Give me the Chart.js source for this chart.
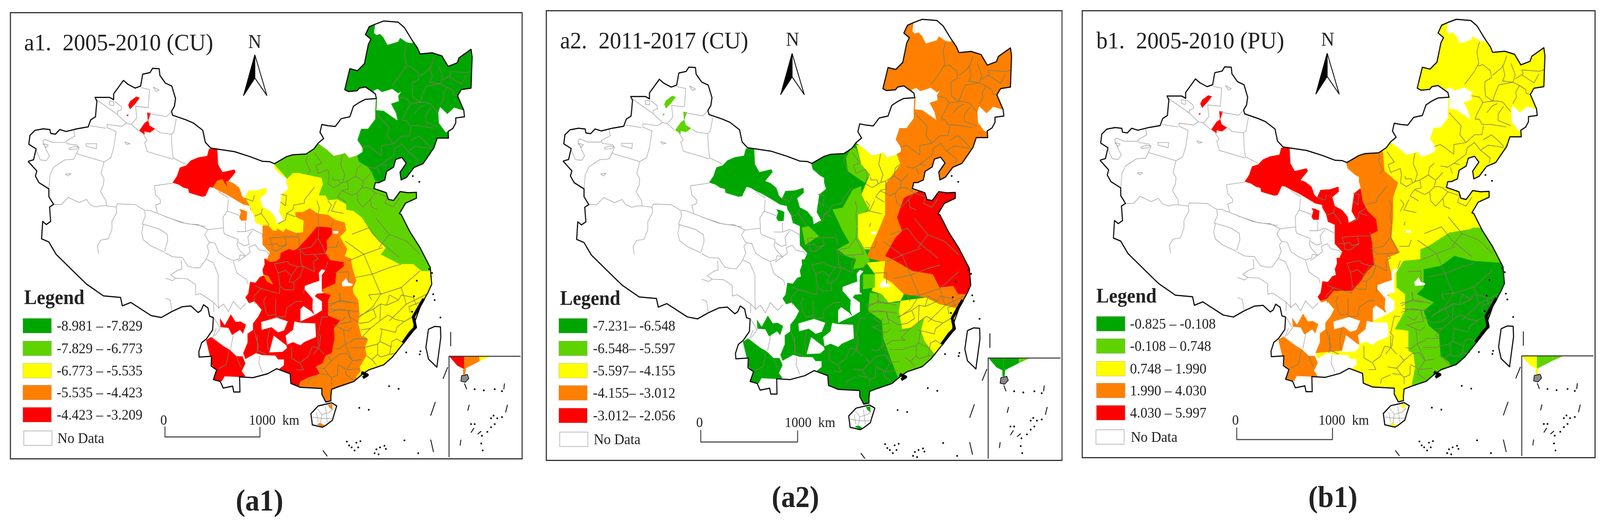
<!DOCTYPE html>
<html>
<head>
<meta charset="utf-8">
<script src="https://cdn.jsdelivr.net/npm/chart.js@4/dist/chart.umd.js"></script>
<style>
  html, body { margin: 0; background: #fff; overflow: hidden; }
  #page { position: relative; width: 4371px; height: 1345px; overflow: hidden; font-family: "Liberation Serif", serif; color: #222; transform-origin: 0 0; }
  #page canvas { position: absolute; }
  .frame { position: absolute; box-sizing: border-box; border: 3px solid #333; pointer-events: none; }
  .txt { position: absolute; white-space: pre; line-height: 1; }
  .swatch { position: absolute; box-sizing: border-box; border: 1px solid #bbb; }
</style>
</head>
<body>
<div id="page"></div>
<script>
// legend classes
const classColors = ['#00a600', '#5fd300', '#ffff00', '#ff8000', '#ff0000'];
const legendA1 = ['-8.981 – -7.829', '-7.829 – -6.773', '-6.773 – -5.535', '-5.535 – -4.423', '-4.423 – -3.209', 'No Data'];
const legendA2 = ['-7.231– -6.548', '-6.548– -5.597', '-5.597– -4.155', '-4.155– -3.012', '-3.012– -2.056', 'No Data'];
const legendB1 = ['-0.825 – -0.108', '-0.108 – 0.748', '0.748 – 1.990', '1.990 – 4.030', '4.030 – 5.997', 'No Data'];

// outlines, flat x,y lists in map units
const national = [73,412,88,408,95,380,75,368,78,345,92,332,115,328,133,330,135,340,148,342,160,330,177,335,207,328,238,323,245,305,258,297,262,257,257,247,297,247,308,253,308,238,335,203,347,213,367,223,382,218,388,187,408,183,415,172,433,173,435,190,450,210,468,218,478,250,475,270,467,283,470,293,507,305,527,313,553,332,560,363,575,378,640,387,683,400,717,412,737,413,750,418,783,400,800,395,837,393,858,380,870,365,885,353,875,337,880,317,897,320,917,322,933,302,957,297,967,270,983,260,1000,252,1030,250,1027,238,1000,220,983,223,977,230,953,232,943,227,957,173,978,178,997,160,1008,110,1015,97,1000,85,1010,65,1027,58,1050,50,1090,53,1107,67,1127,98,1143,120,1150,135,1183,132,1210,140,1227,167,1252,158,1257,145,1290,123,1293,143,1290,223,1263,227,1253,243,1270,280,1272,297,1248,300,1248,313,1240,327,1227,335,1228,352,1197,352,1188,377,1158,418,1133,428,1113,453,1098,460,1095,440,1112,417,1100,402,1083,407,1077,427,1058,438,1053,460,1037,467,1027,467,1023,482,1057,493,1063,510,1077,513,1095,490,1117,493,1140,492,1140,507,1110,520,1093,547,1098,549,1121,592,1150,635,1178,686,1182,729,1172,750,1152,783,1135,827,1131,850,1103,883,1074,917,1050,937,1009,950,989,963,968,980,927,993,907,1000,905,1017,905,1030,891,1033,880,1013,880,998,821,995,795,985,793,960,756,947,731,960,691,970,654,968,655,1007,638,1007,635,992,609,997,601,980,582,975,591,950,576,940,577,915,543,917,542,903,550,880,563,870,580,847,582,815,572,812,567,790,555,782,548,797,540,802,520,785,497,787,467,800,439,815,411,810,355,776,332,785,327,763,280,759,234,729,215,712,150,652,130,620,110,612,113,567,123,575,135,567,132,530,143,523,130,503,130,483,103,467,93,450,97,437,73,412];
const dataArea = [930,20,1320,20,1320,1060,770,1060,764,947,776,938,776,923,760,923,752,913,717,912,699,907,670,922,664,907,676,880,676,857,691,847,691,830,705,813,715,795,695,773,680,778,670,763,678,753,683,723,698,725,710,710,720,707,717,692,723,677,722,663,730,663,737,647,717,627,717,607,717,578,698,570,693,550,683,535,682,527,663,523,637,508,617,497,597,488,582,480,572,478,560,502,550,503,515,493,513,483,500,480,487,472,470,467,482,450,490,428,507,423,520,410,540,402,565,398,570,380,593,380,595,420,607,440,640,433,643,440,623,463,637,468,653,480,658,492,660,500,668,508,678,488,703,487,727,480,728,493,710,507,717,530,737,540,752,557,755,573,775,563,763,543,765,528,770,497,788,483,783,467,783,455,773,450,752,433,748,418,748,405,860,365,872,367,895,383,913,398,937,393,943,390,955,403,977,397,992,388,992,377,978,357,988,328,1007,328,1027,303,1027,283,1029,245,930,240];
const hainan = [870,1043,907,1035,921,1043,913,1067,909,1080,891,1093,882,1098,854,1092,850,1063,870,1043];
const taiwan = [1173,845,1190,838,1206,839,1207,866,1196,943,1173,922,1166,892,1173,845];

// no data holes inside the data area, read off crops
const holesCrop6 = [
  [670,150,680,85,700,30,900,30,1000,200,985,232,940,225,885,190,870,220,780,245,750,190,720,160,690,170],
  [665,600,700,585,735,610,820,585,870,620,895,605,870,640,875,680,810,700,850,770,865,830,810,795,750,755,690,750,695,670],
  [1215,725,1275,780,1330,730,1420,755,1430,900,1260,920,1205,850,1200,770],
];
const holesCrop7 = [
  [1265,900,1290,870,1320,880,1290,915,1290,1040,1310,1055,1250,1060,1215,1100,1150,1030,1150,1000,1220,975,1270,960],
  [1380,575,1425,575,1425,595,1385,597],
  [1455,975,1490,940,1510,975,1545,985,1540,1000,1460,1005],
];
const holesCrop8 = [
  [375,230,480,195,555,225,530,295,490,310,445,270,380,290],
  [460,335,545,410,550,430,520,460,430,465],
  [600,225,640,235,740,240,745,345,665,385,640,410,590,385,550,405,540,335,590,290],
  [640,130,660,105,710,145,735,175,640,225],
  [725,20,785,70,785,140,735,175,720,130],
];

// separate patches that always carry one class
const yunnanNorth = [450,1250,490,1305,540,1220,580,1280,620,1275,665,1300,640,1370,615,1340,550,1380,520,1325,455,1320];
const yunnanSouth = [5,370,40,345,80,380,120,415,165,445,210,495,250,495,270,550,245,610,270,650,225,655,130,650,110,690,55,675,75,600,40,560,30,490];
const qinghaiPatch = [653,535,663,537,675,542,673,565,658,565,653,557,658,543];
const karamay = [370,245,380,248,368,263,353,278,348,267,353,257];
const karamaySmall = [343,293,349,290,347,296];
const urumqi = [400,286,410,287,403,307,407,320,422,328,408,338,393,335,393,343,378,333,393,313,402,307];
const hainanTop = [897,1040,909,1038,909,1053,901,1048];
const hainanBottom = [866,1090,876,1087,887,1093,882,1098];

// class areas of a1, map units
const a1Red = [700,640,723,663,737,672,755,670,765,662,767,648,790,638,803,642,813,637,842,608,867,580,907,583,908,600,893,617,895,637,890,648,903,667,940,672,940,683,920,698,917,727,880,743,887,752,905,757,897,770,897,810,930,823,913,843,915,867,907,907,891,913,882,932,864,942,874,960,842,970,821,980,817,992,817,1060,640,1060,640,640];
const a1RedHexi = [460,370,650,370,650,465,640,468,633,463,617,463,620,478,607,458,592,462,582,477,575,510,460,510];
const a1OrangeInset = [718,703,733,708,747,730,730,723];
const a1Yellow = [670,507,682,527,700,578,713,578,733,577,745,590,755,592,758,585,775,595,780,585,790,590,810,597,828,595,830,565,808,555,807,543,827,543,847,533,870,547,897,550,917,563,943,570,947,590,930,607,950,638,943,657,960,663,963,683,975,720,965,740,967,752,980,770,984,807,980,830,989,863,1007,872,999,890,1003,913,984,943,987,953,974,968,1000,1000,1320,1000,1320,380,900,380,660,440];
const a1Light = [700,300,748,418,785,457,800,442,817,442,880,455,883,472,878,482,872,500,890,500,897,512,923,510,947,523,947,537,967,540,990,557,1019,600,1056,635,1042,652,1093,677,1131,677,1154,695,1320,695,1320,300];
const a1Dark = [1320,20,1320,520,1027,463,1017,440,1007,427,982,413,977,397,960,300,930,240,930,20];

const a2Orange = [960,20,1000,250,1065,460,1075,490,1030,550,1030,640,1010,690,985,745,975,770,1030,785,1025,830,1050,845,1085,880,1150,890,1190,910,1245,925,1500,925,1500,20];
const a2Red = [1085,590,1130,570,1170,590,1190,575,1300,570,1300,880,1270,880,1245,880,1230,855,1190,860,1170,820,1110,810,1060,780,1030,765,1060,710,1080,690,1065,650];
const a2Yellow1 = [945,430,1065,460,1075,490,1030,550,1030,640,1010,690,985,745,970,745,950,710,950,640,985,630,960,580,985,520,960,490];
const a2Yellow2 = [975,785,1030,780,1025,830,1050,845,1085,880,1075,900,1040,905,1020,880,990,870,1000,845,1000,820];
const a2Yellow3 = [1075,900,1150,890,1190,910,1250,925,1300,950,1175,1090,1145,1020,1135,990,1145,950,1110,980,1080,985,1070,930];
const a2Light1 = [915,470,920,510,970,545,985,520,960,490,945,440,930,440];
const a2Light2 = [960,555,935,565,905,620,875,625,905,690,925,725,890,745,915,765,945,775,935,805,965,800,985,780,970,745,950,710,950,640,985,630,960,580];
const a2Light3 = [985,875,1020,880,1040,905,1075,905,1070,930,1080,985,1110,980,1145,950,1135,990,1145,1020,1175,1060,1160,1150,1075,1150,1050,1085,1025,1015,1020,960,980,930];
const a2Light4 = [965,820,1000,820,1000,860,965,865];
const a2Light5 = [785,680,805,675,835,705,795,732];

const b1Orange = [700,380,925,450,930,510,970,545,955,590,955,650,950,710,975,755,940,770,945,800,955,830,940,860,945,930,905,945,880,990,855,1030,805,1050,700,1060,500,1060,500,380];
const b1Red = [480,380,760,380,835,560,860,565,865,600,880,630,905,655,910,690,890,700,895,745,900,790,880,810,860,840,835,870,780,870,760,895,740,900,700,900,480,600];
const b1Light = [1190,680,1400,680,1400,1200,1010,1200,1010,1150,1020,1100,1015,1060,1000,1050,1000,990,960,985,990,930,990,880,965,860,965,815,985,780,1035,775,1035,745,1060,735,1090,715,1120,695,1180,685];
const b1Dark = [1262,785,1400,785,1400,1150,1130,1120,1120,1085,1095,1065,1090,1000,1060,975,1045,930,1075,905,1025,880,1045,860,1045,805,1095,795,1135,765,1190,780];

// light prefecture lines of the west
const westCrop5 = [
  [605,310,770,420,850,490,890,500,950,550],
  [850,490,810,515,690,500,690,525,765,555,745,680,720,760,665,790,450,730,440,720],
  [550,510,680,530],
  [750,320,805,360,810,385,775,400,775,420],
  [965,215,1040,230,1030,370,925,360,935,450,890,500],
  [1030,415,1180,440,1215,405],
  [1260,455,1240,560,1220,575,1225,680,1235,760,1340,810],
  [1090,540,1130,565,1220,575],
  [985,570,1020,625,1000,640,1020,710,1235,770],
  [415,545,425,590,350,630,360,650,440,660,460,680,440,720,415,770,340,775,250,830,220,890,210,1000],
  [160,630,175,615,240,640,350,640],
  [160,630,190,700,215,745,190,780,140,775,105,700],
  [665,790,640,880,665,920,660,970,635,1020,680,1090,685,1130,640,1130,600,1140,550,1120,520,1080,460,1105,370,1065,315,1120,250,1120],
  [685,1130,765,1140,770,1180,730,1250,730,1310,700,1385,640,1395,610,1440,620,1500],
  [765,1140,775,1115,920,1120,1000,1165,1040,1165,1300,1260,1500,1290],
  [1080,975,1230,955],
  [1080,975,1090,1045,1130,1085,1130,1110,1090,1125,1105,1185],
  [1000,1170,1005,1210,980,1270,1120,1310,1185,1350,1190,1400,1165,1480],
  [990,1270,975,1340,990,1395,1050,1440,1165,1490],
  [515,650,605,650,600,690,520,670,515,650],
  [1070,210,1120,235,1095,245,1070,210],
  [375,685,420,670,455,675,440,690,380,695,375,685],
  [160,650,205,660,190,680,160,650],
  [835,635,880,650,850,655,835,635],
  [345,885,390,880,370,900,345,885],
  [710,320,745,325,745,355,710,350,710,320],
];
const westCrop7 = [
  [0,465,180,520,270,525,350,565,480,550,480,580,490,600,600,640,590,680,610,720,660,770,600,810],
  [350,565,325,605,360,660,410,670,440,740,500,780,560,805,610,790,615,760,660,770,700,740,690,700,740,680,770,720,830,730,860,760],
  [365,665,345,690,360,740,335,795,285,860,240,860,190,850,140,780,60,775,0,745],
  [340,795,395,820,435,910,435,1100,440,1180],
  [130,800,135,870,100,880,45,915,85,940,180,945,250,990,250,1070,290,1060,400,1130,400,1200],
  [0,940,60,960,85,940],
  [0,1095,40,1110,55,1190],
  [560,810,590,900,670,950,680,985],
  [520,330,510,420,610,455],
  [510,420,475,470,480,550],
  [440,270,520,320],
  [660,510,660,580,720,560,800,600,800,620],
  [590,580,660,580],
  [680,620,720,570],
  [680,620,690,680,650,690,600,660],
  [400,1130,440,1170,480,1140,520,1200,560,1120,620,1180,665,1135],
  [420,1330,390,1400],
];
const westCrop8 = [
  [60,340,100,280,60,200],
  [190,320,170,440],
  [365,490,360,550,385,620],
];

// darker county lines of the east
const eastCrop6 = [
  [940,235,920,310,935,400,900,460,820,560],
  [920,420,970,410,1030,455,1040,510,985,540,985,590,990,650,1050,690],
  [1050,490,1115,440,1140,410,1165,340],
  [1130,410,1150,490,1130,535,1215,545,1235,490,1200,400],
  [1235,520,1300,480,1290,450,1430,460,1470,450],
  [1290,490,1340,520,1390,550,1430,480],
  [1100,565,1215,545,1270,570,1240,620,1245,660,1215,710],
  [1100,565,1070,630,1050,690,970,700,920,790,905,830],
  [1270,570,1320,600,1325,630,1360,640],
  [880,650,940,660,970,700],
  [1050,690,1090,690,1135,700,1170,740,1195,770],
  [1000,780,1050,725,1090,710],
  [1140,730,1095,790,1095,840,1200,880],
  [905,830,940,830,960,870,1030,870,1100,880,1160,890],
  [690,780,790,880,780,950,830,1010,900,950,960,950,975,880],
  [970,990,1040,950,1100,1000,1140,1040],
  [830,1010,730,1025,730,1100,620,1025,570,1040],
  [830,1100,840,1050,900,1010,950,1070,1010,1030,1090,1040,1140,1050],
  [950,1070,1030,1130,1020,1170],
  [830,1100,730,1170,780,1180],
  [620,1190,680,1200,730,1170],
  [700,1200,720,1250],
  [180,1080,240,1160,190,1180,210,1240,290,1210,300,1260,290,1320,340,1350,410,1310,430,1250,395,1170,410,1090],
  [120,1100,110,1150,145,1220,120,1250],
  [410,1310,450,1300,520,1260,530,1200,570,1170],
  [330,1270,330,1290,380,1290,390,1320],
  [520,1260,580,1300,640,1240],
  [450,1300,460,1360,410,1370,370,1420,440,1460],
  [580,1300,570,1350,530,1390,490,1410,410,1375],
  [530,1390,540,1460,580,1500,640,1440,680,1390,640,1360,610,1350,570,1350],
  [680,1390,780,1420,760,1470,830,1500,880,1430],
  [640,1440,650,1500,700,1520],
];
const eastCrop7 = [
  [1230,235,1150,330,1145,360,1060,375,1050,410,1000,440,990,490,930,520],
  [1000,440,1070,465],
  [1250,340,1270,400,1260,440],
  [950,290,1000,300,990,380,950,350],
  [1340,340,1370,375,1340,430],
  [1410,340,1390,380,1370,420,1470,440],
  [790,440,830,490,855,530],
  [800,400,790,440,735,460],
  [650,320,720,345,735,300],
  [1265,540,1260,630,1200,700,1090,720],
  [1260,630,1310,720,1320,750,1150,760,1110,720],
  [1110,720,1120,830,1140,850,1090,850,1020,830],
  [1140,850,1230,890,1220,810,1260,790,1230,760],
  [1340,810,1320,870],
  [1140,850,1110,930,1060,970,1020,970,1040,920,1090,850],
  [990,880,1040,920],
  [990,880,930,900,900,830,1010,810,1020,830],
  [930,900,945,1000,940,1060,860,1040,790,1020,730,1080],
  [1060,970,1060,1030,985,1030,950,1005],
  [1150,1000,1140,1060],
  [740,1000,790,1020],
  [830,1080,810,1120,830,1200,850,1230,910,1220],
  [910,1100,910,1240,990,1240,1000,1170,1080,1120,1130,1120],
  [730,1080,740,1140],
  [1290,1240,1260,1370,1280,1390,1270,1470,1220,1530],
  [1340,1240,1290,1240],
  [730,1340,770,1470,750,1520],
  [860,1330,840,1420,850,1500],
  [860,630,1000,620,1090,620],
  [860,630,880,680,920,670,940,695,1000,680,985,620],
  [830,680,880,680,880,720,920,730,1000,680],
  [1090,590,1110,680],
  [1260,440,1265,530],
  [1380,510,1370,540],
  [1430,650,1410,700,1330,700],
  [1400,895,1510,890,1510,970],
  [1440,1060,1440,1120,1340,1140],
  [1440,1120,1530,1130],
  [1360,1180,1430,1190,1510,1190],
  [1510,1190,1530,1280,1450,1290,1400,1310],
];
const eastCrop8 = [
  [1040,180,1130,130,1180,90,1220,100,1300,60],
  [1130,130,1150,190,1100,230,1040,240],
  [1180,90,1175,220,1110,280,1050,290],
  [1175,220,1230,175,1280,210,1340,225,1410,180],
  [1110,280,1060,340,1090,360],
  [1175,280,1190,285,1280,310,1290,270,1340,225],
  [1190,285,1175,380,1160,400,1075,425],
  [1175,380,1250,420,1255,380,1290,360,1330,390],
  [1160,400,1160,480,1120,520,1085,490],
  [1250,420,1240,480,1180,500,1160,480],
  [1240,480,1290,470],
  [1120,520,1150,560],
  [1380,160,1370,110,1460,70],
  [1300,60,1320,20,1400,40,1420,100],
  [1220,100,1240,20,1300,60],
  [1120,60,1100,20,1190,10],
  [900,0,910,60,830,110],
  [910,60,1030,90],
  [830,160,900,130,960,140,1030,150],
  [960,140,970,190,1040,240],
  [870,190,920,220,940,190],
  [860,250,930,290,940,400,980,380,1000,360,1090,360],
  [930,290,960,300,990,270],
  [940,400,900,440,860,430],
  [980,430,1075,430],
  [940,400,990,530,1050,520],
  [820,490,850,530,900,480,950,470,990,530,950,600,1040,590],
  [850,530,800,590,740,580],
  [890,560,940,590,950,640,1000,680],
  [800,590,830,640,850,660,850,710],
  [850,660,890,640,890,570],
  [760,640,700,670,690,710],
  [830,640,770,630],
  [640,540,690,500,720,420,760,430,800,480],
  [580,420,580,510,640,550,660,600,610,600],
  [760,340,760,420],
  [350,330,350,450,410,480],
  [160,450,140,560,90,590],
  [210,500,240,580],
];
const eastCrop1 = [
  [1030,700,1080,680,1110,720,1170,770],
  [1010,720,1065,760,1120,740],
  [1020,780,1065,760,1090,820,1140,800,1175,790],
  [1040,830,1090,820,1115,880,1175,860,1230,810],
  [1115,880,1090,920,1050,950],
  [1175,860,1190,910,1140,960],
  [1190,910,1250,880],
  [1100,650,1140,700,1190,720],
  [1140,700,1110,740],
  [1190,720,1230,760],
];
const hainanLines = [
  [868,1050,880,1065,900,1060,912,1050],
  [880,1065,876,1090],
  [855,1072,880,1075,908,1075],
  [890,1045,895,1085],
  [865,1060,870,1085],
];

// coast clumps, islands and sea dashes
const coastThick = [
  [1470,50,1440,110,1400,190,1415,270,1380,310,1330,390],
  [1050,620,1090,640,1060,660],
];
const seaDashes = [
  [1192,1033,1179,1068],[1179,1130,1187,1162],[883,1158,895,1173],
  [1234,853,1234,888],[1226,943,1213,973],
  [1272,985,1278,1000],[1382,985,1380,1000],[1285,1040,1281,1055],[1390,1040,1385,1060],
  [1262,1130,1260,1145],[1298,1100,1290,1112],[1318,1108,1308,1116],
];
const islandDots = [
  [1065,992],[1091,999],[983,1048],[1009,1053],[1107,1132],[1145,1165],[949,1135],[955,1145],[962,1150],[975,1138],[980,1150],[970,1158],[986,1134],
  [1025,1165],[1030,1155],[1040,1150],[1052,1146],[1056,1154],[1036,1168],[1151,902],[1149,910],[1206,815],[1190,770],[1186,755],
  [1300,1000],[1325,1003],[1355,1000],[1375,1005],[1335,1110],[1345,1098],[1355,1090],[1362,1075],[1345,1075],[1352,1068],[1375,1072],[1320,1120],[1318,1140],[1322,1158],[1300,1090],[1290,1090],
  [1141,720],[1133,760],[1128,800],[1120,860],[1175,690],[1183,700],[1112,905],[1148,465],[1130,450],
];
const inset = [1229.5,1175,1229.5,915,1426,915];
const insetHainan = [1264,965,1280,962,1284,972,1274,982,1262,979,1264,965];
const insetNeck = [1268,946,1276,946,1274,962,1268,962];
const insetLeft = [1231,916,1271,916,1271,948,1252,939];
const insetMid = [1271,916,1313,916,1313,928,1271,948];
const insetRight = [1313,916,1341,916,1313,928];
const northLeft = [696,137,665,242,696,197];
const northRight = [696,137,729,242,696,197,696,137];

// reads of the crops back to map units
const mapPts = (flat, ox = 0, oy = 0, sx = 1, sy = 1) => {
  const pts = [];
  for (let i = 0; i < flat.length; i += 2) pts.push({ x: ox + flat[i] / sx, y: oy + flat[i + 1] / sy });
  return pts;
};
const crop1 = (f) => mapPts(f, 0, 0, 1.07, 1.166);
const crop5 = (f) => mapPts(f, 60, 150, 3, 3);
const crop6 = (f) => mapPts(f, 800, 30, 3, 3);
const crop7 = (f) => mapPts(f, 450, 400, 3, 3);
const crop8 = (f) => mapPts(f, 560, 750, 2.45, 3);
const cropA2 = (f) => mapPts(f, -4, 4.75, 1.0807, 1.1777);
const cropB1 = (f) => mapPts(f, -14, 4.5, 1.0721, 1.1707);

const nationalPts = mapPts(national);
const dataPts = mapPts(dataArea);
const hainanPts = mapPts(hainan);

// fills the polygon datasets, the points come from the scales
const polygonFill = {
  id: 'polygonFill',
  beforeDatasetDraw(chart, args) {
    const ds = chart.data.datasets[args.index];
    if (!ds.polyColor) return;
    const { ctx, scales } = chart;
    const trace = (pts) => {
      ctx.beginPath();
      pts.forEach((p, i) => {
        const px = scales.x.getPixelForValue(p.x), py = scales.y.getPixelForValue(p.y);
        if (i) ctx.lineTo(px, py); else ctx.moveTo(px, py);
      });
      ctx.closePath();
    };
    ctx.save();
    (ds.clipTo || []).forEach((pts) => { trace(pts); ctx.clip(); });
    trace(ds.data);
    ctx.fillStyle = ds.polyColor;
    ctx.fill();
    ctx.restore();
  },
};

const area = (pts, color, clipTo) => ({ data: pts, showLine: false, pointRadius: 0, polyColor: color, clipTo });
const lines = (lists, color, width) => {
  const data = [];
  lists.forEach((pts) => { data.push(...pts, { x: null, y: null }); });
  return { data, showLine: true, spanGaps: false, borderColor: color, borderWidth: width, pointRadius: 0, borderJoinStyle: 'round' };
};

const panels = [
  {
    id: 'a1', left: 27, top: 31, right: 1426, bottom: 1175, x: [27, 1426], y: [31, 1175],
    title: 'a1.  2005-2010 (CU)', tag: '(a1)', legend: legendA1,
    titleAt: [66, 129], legendAt: [66, 780], swatchX: 62, labelX: 155, ys: [815, 873, 930, 986, 1043, 1103], noDataX: 64,
    north: [696, 123], zero: [447, 1089], km: [680, 1089], bar: [449, 1097, 710, 1123], tagAt: [710, 1308],
    base: 3,
    cuts: [[mapPts(a1Red), 4], [mapPts(a1RedHexi), 4], [mapPts(a1OrangeInset), 3], [mapPts(a1Yellow), 2], [mapPts(a1Light), 1], [mapPts(a1Dark), 0]],
    yunnan: 4, qinghai: 3, xinjiang: 4, hainan: 3, inset: [4, 3, 2], neck: 3,
  },
  {
    id: 'a2', left: 1491, top: 26, right: 2901, bottom: 1179, x: [30, 1426], y: [30.5, 1172],
    title: 'a2.  2011-2017 (CU)', tag: '(a2)', legend: legendA2,
    titleAt: [1530, 124], legendAt: [1530, 782], swatchX: 1526, labelX: 1620, ys: [815, 873, 930, 987, 1045, 1106], noDataX: 1528,
    north: [2165, 117], zero: [1911, 1095], km: [2144, 1095], bar: [447.5, 1100, 711, 1129.5], tagAt: [2174, 1299],
    base: 0,
    cuts: [[cropA2(a2Orange), 3], [cropA2(a2Red), 4], [cropA2(a2Yellow1), 2], [cropA2(a2Yellow2), 2], [cropA2(a2Yellow3), 2], [cropA2(a2Light1), 1], [cropA2(a2Light2), 1], [cropA2(a2Light3), 1], [cropA2(a2Light4), 1], [cropA2(a2Light5), 1]],
    yunnan: 0, qinghai: 0, xinjiang: 1, hainan: 0, inset: [0, 0, 1], neck: 0,
  },
  {
    id: 'b1', left: 2955, top: 26, right: 4357, bottom: 1172, x: [27, 1426], y: [30.4, 1172],
    title: 'b1.  2005-2010 (PU)', tag: '(b1)', legend: legendB1,
    titleAt: [2995, 124], legendAt: [2995, 776], swatchX: 2995, labelX: 3087, ys: [810, 867, 925, 981, 1038, 1100], noDataX: 2993,
    north: [3627, 117], zero: [3375, 1089], km: [3602, 1089], bar: [448, 1100, 710.6, 1130], tagAt: [3640, 1299],
    base: 2,
    cuts: [[cropB1(b1Orange), 3], [cropB1(b1Red), 4], [cropB1(b1Light), 1], [cropB1(b1Dark), 0]],
    yunnan: 3, qinghai: 4, xinjiang: 4, hainan: 2, inset: [2, 1, 1], neck: 2,
  },
];

const page = document.getElementById('page');
// the window can come up narrower than the 4371 of the layout
page.style.transform = `scaleX(${window.innerWidth / 4371})`;

const addText = (str, x, baseline, size, extra = {}) => {
  const el = document.createElement('div');
  el.className = 'txt';
  el.textContent = str;
  el.style.left = x + 'px';
  el.style.top = (baseline - 0.8375 * size) + 'px';
  el.style.fontSize = size + 'px';
  Object.assign(el.style, extra);
  page.appendChild(el);
};

panels.forEach((p) => {
  const canvas = document.createElement('canvas');
  const w = p.right - p.left, h = p.bottom - p.top;
  canvas.width = w;
  canvas.height = h;
  canvas.style.left = p.left + 'px';
  canvas.style.top = p.top + 'px';
  canvas.style.width = w + 'px';
  canvas.style.height = h + 'px';
  canvas.style.filter = 'blur(0.7px)';
  page.appendChild(canvas);

  const inData = [nationalPts, dataPts];
  const [bx0, by0, bx1, by1] = p.bar;
  const datasets = [
    area(nationalPts, '#ffffff'),
    area(dataPts, classColors[p.base], [nationalPts]),
    ...p.cuts.map(([pts, c]) => area(pts, classColors[c], inData)),
    ...holesCrop6.map((f) => area(crop6(f), '#ffffff', [nationalPts])),
    ...holesCrop7.map((f) => area(crop7(f), '#ffffff', [nationalPts])),
    ...holesCrop8.map((f) => area(crop8(f), '#ffffff', [nationalPts])),
    area(crop7(yunnanNorth), classColors[p.yunnan]),
    area(crop8(yunnanSouth), classColors[p.yunnan], [nationalPts]),
    area(mapPts(qinghaiPatch), classColors[p.qinghai]),
    area(mapPts(karamay), classColors[p.xinjiang]),
    area(mapPts(karamaySmall), classColors[p.xinjiang]),
    area(mapPts(urumqi), classColors[p.xinjiang]),
    lines([...westCrop5.map(crop5), ...westCrop7.map(crop7), ...westCrop8.map(crop8)], '#a8a8a8', 1.6),
    lines([...eastCrop6.map(crop6), ...eastCrop7.map(crop7), ...eastCrop8.map(crop8), ...eastCrop1.map(crop1)], '#7d7d5c', 1.6),
    area(hainanPts, '#ffffff'),
    area(mapPts(hainanTop), classColors[p.hainan], [hainanPts]),
    area(mapPts(hainanBottom), classColors[p.hainan], [hainanPts]),
    lines(hainanLines.map((f) => mapPts(f)), '#a0a0a0', 1.4),
    lines([hainanPts, mapPts(taiwan), nationalPts], '#0a0a0a', 3),
    lines(coastThick.map(crop8), '#000000', 8),
    lines(seaDashes.map((f) => mapPts(f)), '#111111', 2.4),
    { data: islandDots.map(([x, y]) => ({ x, y })), showLine: false, pointRadius: 2.4, pointBackgroundColor: '#000', pointBorderWidth: 0 },
    area(mapPts(insetLeft), classColors[p.inset[0]]),
    area(mapPts(insetMid), classColors[p.inset[1]]),
    area(mapPts(insetRight), classColors[p.inset[2]]),
    area(mapPts(insetNeck), classColors[p.neck]),
    area(mapPts(insetHainan), '#8a8a8a'),
    lines([mapPts(insetHainan)], '#111111', 2),
    lines([mapPts(inset)], '#333333', 2.6),
    area(mapPts(northLeft), '#000000'),
    lines([mapPts(northLeft), mapPts(northRight)], '#000000', 2.2),
    lines([[{ x: bx0, y: by0 }, { x: bx0, y: by1 }, { x: bx1, y: by1 }, { x: bx1, y: by0 }]], '#444444', 2.6),
  ];
  // first dataset is drawn last by default, so turn it round
  datasets.forEach((d, i) => { d.order = datasets.length - i; });

  new Chart(canvas, {
    type: 'scatter',
    data: { datasets },
    options: {
      responsive: false,
      animation: false,
      devicePixelRatio: 1,
      layout: { padding: 0 },
      plugins: { legend: { display: false }, tooltip: { enabled: false } },
      events: [],
      scales: {
        x: { type: 'linear', display: false, min: p.x[0], max: p.x[1] },
        y: { type: 'linear', display: false, reverse: true, min: p.y[0], max: p.y[1] },
      },
    },
    plugins: [polygonFill],
  });

  const frame = document.createElement('div');
  frame.className = 'frame';
  frame.style.cssText = `left:${p.left}px;top:${p.top}px;width:${w + 2}px;height:${h + 2}px`;
  page.appendChild(frame);

  addText(p.title, p.titleAt[0], p.titleAt[1], 62);
  addText('Legend', p.legendAt[0], p.legendAt[1], 52, { fontWeight: 'bold' });
  p.legend.forEach((label, i) => {
    const sw = document.createElement('div');
    const noData = i === 5;
    sw.className = 'swatch';
    sw.style.cssText = `left:${noData ? p.noDataX : p.swatchX}px;top:${p.ys[i]}px;width:79px;height:39px;` +
      (noData ? 'background:#fff;border:2px solid #bbb' : `background:${classColors[i]}`);
    page.appendChild(sw);
    addText(label, p.labelX + (noData ? 2 : 0), p.ys[i] + 32, 38);
  });
  addText('N', p.north[0] - 18, p.north[1], 50);
  addText('0', p.zero[0] - 9, p.zero[1], 36.5);
  addText('1000  km', p.km[0], p.km[1], 36.5);
  addText(p.tag, p.tagAt[0] - 66, p.tagAt[1], 78, { fontWeight: 'bold' });
});
</script>
</body>
</html>
